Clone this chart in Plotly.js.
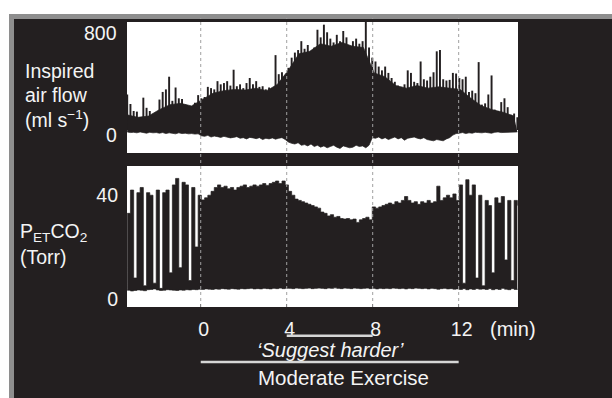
<!DOCTYPE html>
<html><head><meta charset="utf-8">
<script src="https://cdn.plot.ly/plotly-3.0.1.min.js"></script>
<style>html,body{margin:0;padding:0;background:#fff}#chart{width:612px;height:398px}</style>
</head><body><div id="chart"></div>
<script>
// ---- data ----
const sampleStart = -3.42;   // min, breath-peak samples
const sampleStep = 0.15;     // min
const flowPeak = [280,205,150,145,40,255,175,150,120,40, 240,300,320,420,230,335,250,245,200,175,
  160,215,275,250,260,340,330,320,385,360, 370,385,350,475,345,360,330,370,410,360,
  385,340,345,320,335,310,590,440,455,430, 490,570,610,630,700,640,670,600,650,790,
  730,830,770,720,690,750,700,780,730,660, 700,720,680,700,860,650,570,540,500,470,
  500,450,410,380,350,340,360,470,450,380, 370,540,400,390,420,455,620,630,400,390,
  395,450,445,410,400,420,300,310,290,535, 200,210,280,430,160,150,220,250,180,120,130,100];
const flowTrough = [-15,-20,-18,-22,-15,-20,-25,-18,-22,-20, -25,-20,-28,-22,-25,-30,-22,-28,-25,-30,
  -28,-32,-30,-45,-50,-42,-55,-48,-52,-58, -50,-55,-62,-58,-52,-65,-60,-70,-58,-62,
  -68,-60,-75,-65,-70,-62,-72,-65,-60,-75, -95,-105,-110,-100,-120,-115,-125,-110,-130,-120,
  -135,-125,-140,-130,-120,-135,-145,-125,-130,-140, -135,-120,-130,-125,-140,-120,-60,-65,-55,-70,
  -60,-75,-65,-55,-70,-60,-80,-65,-60,-55, -65,-70,-60,-75,-80,-85,-75,-80,-85,-70,
  -60,-40,-28,-25,-20,-28,-22,-25,-18,-20, -22,-18,-20,-25,-18,-15,-20,-18,-15,-18,-12,-15];
// top of the dense (solid) part of the flow record, every 0.5 min
const bodyStart = -3.43, bodyStep = 0.5;
const flowBody = [120,100,110,160,200,210,190,240,290,310, 320,315,330,310,360,470,600,620,680,660,
  690,660,650,450,420,350,330,350,330,340, 330,320,250,190,160,140,110];
const co2Peak = [33,42,8,41,43,5,41,40,6,42, 4,41,42,10,44,46.5,12,45,44,7,
  43,20,40,38.2,39,40,41.5,43,44,43, 43.5,42.5,43,42,43,43.5,44,43,43.5,44,
  43.5,44,44.5,43.8,44.5,45,45.5,44.5,45.5,44, 41.5,40,38.5,38,37.5,37,36.5,36,35.5,35,
  33.5,33,32,32.5,31.5,31.8,31,30.8,31,30.5, 30.8,29.5,30.5,31,31.5,30.5,35.5,35,35.5,36,
  36.5,37,36.5,37.5,37,38,39.5,38,37,37.5, 36.5,37.5,37,38,37,37.5,43.5,38,39,40,
  39,40.5,38,44,6,46,40,44,8,40, 5,38,36,10,39,37,39.5,15,38,7,38,36];
const co2Trough = [3.3,3.0,3.2,3.4,3.3,3.1,3.5,3.6,3.8,3.4, 3.2,3.3,3.5,3.4,3.3,3.2,3.4,3.3,3.5,3.4,
  3.6,3.5,3.7,3.6,3.8,3.7,3.6,3.8,3.7,3.9, 3.8,3.7,3.9,3.8,3.7,3.9,3.8,3.9,4.0,3.8,
  3.9,3.8,4.0,3.9,3.8,4.0,3.9,4.1,3.9,4.0, 4.0,3.9,4.1,4.0,3.9,4.0,4.1,3.9,4.0,4.1,
  4.0,3.9,4.1,4.0,4.2,4.0,3.9,4.1,4.0,3.9, 4.1,4.0,3.9,4.0,4.1,3.9,4.0,3.8,4.0,3.9,
  4.0,3.9,4.1,4.0,3.9,4.0,3.8,4.0,3.9,4.1, 4.0,3.9,4.0,3.8,4.0,3.9,3.7,3.9,4.0,3.8,
  3.9,3.7,3.8,3.6,3.9,3.5,3.8,3.6,3.9,3.7, 3.8,3.6,3.9,3.5,3.8,3.6,4.0,3.7,3.5,3.9,3.6,3.8];
const timeTicks = [0, 4, 8, 12];
const timeTickLabels = ['0', '4', '8', '12'];
const flowTicks = [0, 800];
const flowTickLabels = ['0', '800'];
const co2Ticks = [0, 40];
const suggestPeriod = [4, 8];
const exercisePeriod = [0, 12];

const time = flowPeak.map((_, i) => sampleStart + i * sampleStep);
const bodyTime = flowBody.map((_, i) => bodyStart + i * bodyStep);

// ---- style ----
const INK = '#231f20';
const TXT = '#f4f4f4';
const FONT = 'Liberation Sans, Arial, Helvetica, sans-serif';
const FS = 19.5;
const W = 612, H = 398, L = 127, R = 518, T = 22, B = 307;
const px = v => (v - L) / (R - L);
const py = v => (B - v) / (B - T);

function sig(x, y, xa, ya, fill, shape) {
  const t = {x: x, y: y, xaxis: xa, yaxis: ya, type: 'scatter', mode: 'lines',
    line: {shape: shape, width: 0.7, color: INK}, hoverinfo: 'skip', showlegend: false};
  if (fill) { t.fill = 'tonexty'; t.fillcolor = INK; }
  return t;
}
const traces = [
  {type: 'bar', x: time, y: flowPeak, xaxis: 'x', yaxis: 'y', width: 0.09,
    marker: {color: INK, line: {width: 0}}, hoverinfo: 'skip', showlegend: false},
  sig(time, flowTrough, 'x', 'y', false, 'linear'),
  sig(bodyTime, flowBody, 'x', 'y', true, 'linear'),
  sig(time, co2Trough, 'x2', 'y2', false, 'hv'),
  sig(time, co2Peak, 'x2', 'y2', true, 'hv')
];

const xr = [-3.43, 14.76];
const tf = {family: FONT, size: FS, color: TXT};
const shapes = [
  {type: 'rect', xref: 'paper', yref: 'paper', x0: px(-5), x1: px(620), y0: py(14), y1: py(-5), fillcolor: '#fff', line: {width: 0}, layer: 'below'},
  {type: 'rect', xref: 'paper', yref: 'paper', x0: px(-5), x1: px(9), y0: py(405), y1: py(-5), fillcolor: '#fff', line: {width: 0}, layer: 'below'},
  {type: 'rect', xref: 'paper', yref: 'paper', x0: px(9), x1: px(620), y0: py(19), y1: py(14), fillcolor: '#8e8e8e', line: {width: 0}, layer: 'below'},
  {type: 'rect', xref: 'paper', yref: 'paper', x0: px(9), x1: px(14), y0: py(405), y1: py(14), fillcolor: '#8e8e8e', line: {width: 0}, layer: 'below'}
];
timeTicks.forEach(v => shapes.push({type: 'line', xref: 'x2', yref: 'paper', x0: v, x1: v, y0: 0, y1: py(18),
  line: {color: '#a0a0a0', width: 1, dash: 'dot'}, layer: 'above'}));
shapes.push({type: 'line', xref: 'x2', yref: 'paper', x0: suggestPeriod[0], x1: suggestPeriod[1], y0: py(335.7), y1: py(335.7),
  line: {color: '#d6d6d6', width: 2.5}});
shapes.push({type: 'line', xref: 'x2', yref: 'paper', x0: exercisePeriod[0], x1: exercisePeriod[1], y0: py(362), y1: py(362),
  line: {color: '#d6d6d6', width: 2.5}});

function ann(text, x, y, xanchor, size) {
  return {text: text, xref: 'paper', yref: 'paper', x: px(x), y: py(y), xanchor: xanchor, yanchor: 'middle',
    showarrow: false, font: {family: FONT, size: size || FS, color: TXT}};
}
const annotations = [
  ann('Inspired', 23, 71, 'left'),
  ann('air flow', 23, 95, 'left'),
  ann('(ml s<sup>−1</sup>)', 23, 119, 'left'),
  ann('P<sub>ET</sub>CO<sub>2</sub>', 18, 232, 'left'),
  ann('(Torr)', 18, 257, 'left'),
  ann('(min)', 513, 329, 'center', 20),
  ann('<i>‘Suggest harder’</i>', 330, 350, 'center', 20),
  ann('Moderate Exercise', 343, 378, 'center', 20.5)
];
// flow-axis tick labels (drawn slightly below their ticks, as in the original figure)
flowTicks.forEach((v, i) => annotations.push({text: flowTickLabels[i], xref: 'paper', yref: 'y', x: px(119), y: v,
  xanchor: 'right', yanchor: 'middle', yshift: -4.5, showarrow: false, font: tf}));

const layout = {
  width: W, height: H,
  margin: {l: L, r: W - R, t: T, b: H - B, pad: 0},
  paper_bgcolor: INK, plot_bgcolor: '#ffffff',
  showlegend: false,
  xaxis: {domain: [0, 1], anchor: 'y', range: xr, showticklabels: false, ticks: '', showgrid: false, zeroline: false, showline: false, fixedrange: true},
  xaxis2: {domain: [0, 1], anchor: 'y2', range: xr, tickvals: timeTicks, ticktext: timeTickLabels, ticks: 'inside', ticklen: 3, tickwidth: 1.5, tickcolor: INK,
    tickfont: tf, showgrid: false, zeroline: false, showline: false, ticklabelstandoff: 8, ticklabelshift: 3},
  yaxis: {domain: [py(153), 1], anchor: 'x', range: [-181, 851], tickvals: flowTicks, showticklabels: false, ticks: '', showgrid: false, zeroline: false, showline: false},
  yaxis2: {domain: [0, py(166)], anchor: 'x2', range: [-3.2, 51.3], tickvals: co2Ticks, ticks: '', tickfont: tf, showgrid: false, zeroline: false, showline: false,
    ticklabelstandoff: 8},
  shapes: shapes,
  annotations: annotations
};
Plotly.newPlot('chart', traces, layout, {staticPlot: true, displayModeBar: false});
</script></body></html>
